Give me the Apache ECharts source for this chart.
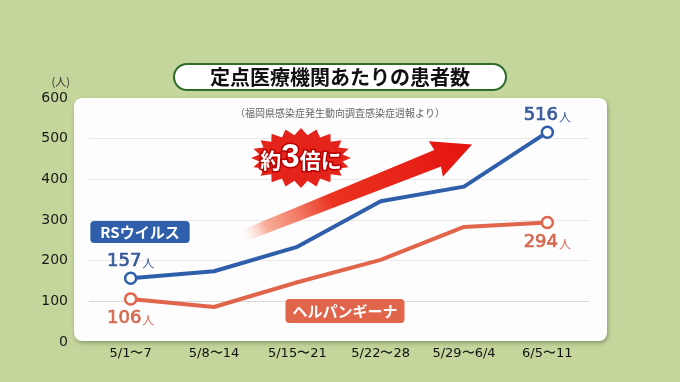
<!DOCTYPE html>
<html><head><meta charset="utf-8">
<script src="https://cdn.jsdelivr.net/npm/echarts@6/dist/echarts.min.js"></script>
<style>html,body{margin:0;padding:0;background:#c4d69b;}#c{width:680px;height:382px;}</style>
</head><body><div id="c"></div>
<script>
const categories = ['5/1〜7','5/8〜14','5/15〜21','5/22〜28','5/29〜6/4','6/5〜11'];
const rsValues = [157, 174, 234, 346, 382, 516];
const herpValues = [106, 86, 147, 202, 283, 294];
const yTicks = [0, 100, 200, 300, 400, 500, 600];
const titleText = '定点医療機関あたりの患者数';
const sourceText = '（福岡県感染症発生動向調査感染症週報より）';
const rsName = 'RSウイルス';
const herpName = 'ヘルパンギーナ';
const calloutText = ['約', '3', '倍に'];

const BLUE = '#2f5fab', BLUE_T = '#37599a';
const ORANGE = '#e0654a', ORANGE_T = '#d6684f';
const NUMF = "'DejaVu Sans', sans-serif";
const JPF = "'Noto Sans CJK JP', sans-serif";

function endLabelData(vals, pos, color) {
  const last = vals.length - 1;
  return vals.map((v, i) => (i === 0 || i === last) ? {
    value: v,
    label: {
      show: true, position: pos, distance: pos === 'top' ? 1 : 4,
      formatter: '{n|{c}}{u|人}',
      rich: {
        n: { fontSize: 18, fontFamily: NUMF, color: color, textBorderColor: color, textBorderWidth: 0.7 },
        u: { fontSize: 12, fontFamily: JPF, color: color, padding: [4, 0, 0, 1] }
      }
    }
  } : v);
}

// starburst decoration
const burst = [];
const cx = 301, cy = 158, spikes = 20;
for (let k = 0; k < spikes * 2; k++) {
  const a = Math.PI * k / spikes;
  const outer = k % 2 === 0;
  const rx = outer ? 50 : 42, ry = outer ? 30 : 23;
  burst.push([cx + rx * Math.cos(a), cy + ry * Math.sin(a)]);
}

const chart = echarts.init(document.getElementById('c'));
chart.setOption({
  backgroundColor: '#c4d69b',
  animation: false,
  title: [{
    text: titleText, left: 'center', top: 64,
    padding: [3, 36, 3, 36],
    backgroundColor: '#fff', borderColor: '#2f6b2a', borderWidth: 2, borderRadius: 14,
    textStyle: { fontFamily: JPF, fontWeight: 'bold', fontSize: 20, lineHeight: 20, color: '#111' }
  }, {
    text: sourceText, left: 'center', top: 103,
    textStyle: { fontFamily: JPF, fontWeight: 'normal', fontSize: 10, color: '#666' }
  }],
  graphic: [
    { type: 'rect', z: -10, shape: { x: 74, y: 98, width: 533, height: 243, r: 8 },
      style: { fill: '#fdfdfd', shadowBlur: 4, shadowOffsetX: 1, shadowOffsetY: 2, shadowColor: 'rgba(0,0,0,0.3)' } },
    { type: 'polygon', z: 1, x: 238, y: 238, rotation: 0.38,
      shape: { points: [[0, -6], [215, -9], [213, -19], [252, 0], [213, 19], [215, 9], [0, 6]] },
      style: { fill: new echarts.graphic.LinearGradient(0, 0, 1, 0, [
        { offset: 0, color: 'rgba(255,255,255,0)' },
        { offset: 0.12, color: 'rgba(245,140,110,0.7)' },
        { offset: 0.4, color: '#ea3320' },
        { offset: 1, color: '#e4130f' }
      ]) } },
    { type: 'polygon', z: 2, shape: { points: burst }, style: { fill: '#e4231b' } },
    { type: 'text', z: 3, x: 301, y: 158,
      style: {
        text: '{a|' + calloutText[0] + '}{b|' + calloutText[1] + '}{a|' + calloutText[2] + '}',
        align: 'center', verticalAlign: 'middle',
        rich: {
          a: { fontFamily: JPF, fontWeight: 'bold', fontSize: 21, fill: '#fff', stroke: '#b80000', lineWidth: 3, padding: [4, 0, 0, 0] },
          b: { fontFamily: "'Liberation Sans', sans-serif", fontWeight: 'bold', fontSize: 33, fill: '#fff', stroke: '#b80000', lineWidth: 3 }
        }
      } },
    { type: 'text', z: 5, x: 140, y: 232,
      style: { text: rsName, align: 'center', verticalAlign: 'middle', fontFamily: JPF, fontWeight: 'bold', fontSize: 15,
        fill: '#fff', backgroundColor: BLUE, borderRadius: 4, padding: [4, 10, 3, 10] } },
    { type: 'text', z: 5, x: 345, y: 311,
      style: { text: herpName, align: 'center', verticalAlign: 'middle', fontFamily: JPF, fontWeight: 'bold', fontSize: 15,
        fill: '#fff', backgroundColor: ORANGE, borderRadius: 4, padding: [5, 7, 4, 7] } }
  ],
  grid: { left: 89, right: 91, top: 98, bottom: 40 },
  xAxis: {
    type: 'category', data: categories, boundaryGap: true,
    axisLine: { show: false }, axisTick: { show: false },
    axisLabel: { fontFamily: NUMF, fontSize: 13, color: '#111', margin: 5 }
  },
  yAxis: {
    type: 'value', min: yTicks[0], max: yTicks[yTicks.length - 1], interval: 100,
    name: '(人)', nameLocation: 'end', nameGap: 16,
    nameTextStyle: { fontFamily: JPF, fontSize: 11, color: '#333', align: 'right', verticalAlign: 'middle', padding: [0, 19, 0, 0] },
    axisLine: { show: false }, axisTick: { show: false },
    axisLabel: { fontFamily: NUMF, fontSize: 14, color: '#1a1a1a', margin: 21 },
    splitLine: { show: true, lineStyle: { width: 1, color: ['rgba(0,0,0,0)', '#d8d8d8', '#e8e8e8', '#e8e8e8', '#e8e8e8', '#e8e8e8', 'rgba(0,0,0,0)'] } }
  },
  series: [{
    name: rsName, type: 'line', data: endLabelData(rsValues, 'top', BLUE_T),
    symbol: 'circle', showAllSymbol: true,
    lineStyle: { color: BLUE, width: 4 },
    itemStyle: { color: '#fff', borderColor: BLUE, borderWidth: 2.5 },
    symbolSize: (v, p) => (p.dataIndex === 0 || p.dataIndex === rsValues.length - 1) ? 11 : 0,
    z: 4
  }, {
    name: herpName, type: 'line', data: endLabelData(herpValues, 'bottom', ORANGE_T),
    symbol: 'circle', showAllSymbol: true,
    lineStyle: { color: ORANGE, width: 4 },
    itemStyle: { color: '#fff', borderColor: ORANGE, borderWidth: 2.5 },
    symbolSize: (v, p) => (p.dataIndex === 0 || p.dataIndex === herpValues.length - 1) ? 11 : 0,
    z: 4
  }]
});
</script></body></html>
